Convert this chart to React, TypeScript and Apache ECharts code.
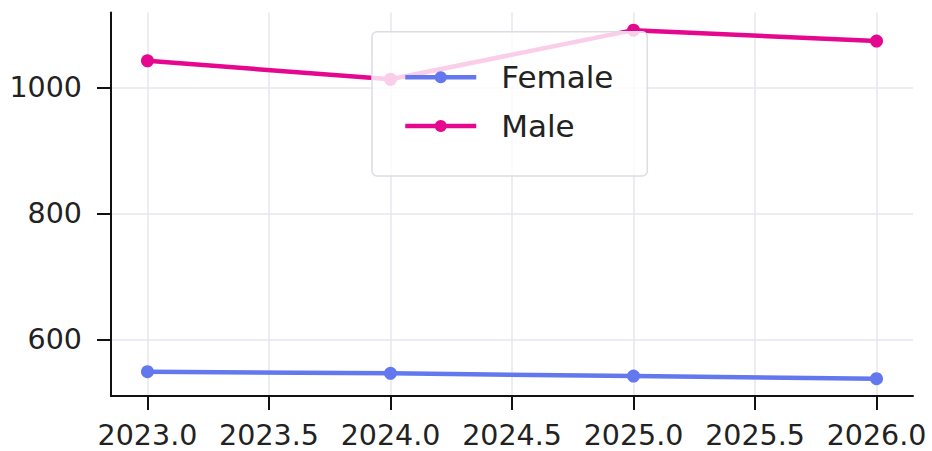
import React, { useEffect, useRef } from "react";
import * as echarts from "echarts";

const years = [2023, 2024, 2025, 2026];
const femaleValues = [548.6, 546, 541.7, 537.5];
const maleValues = [1042.3, 1013, 1091, 1073.6];
const xTicks = [2023, 2023.5, 2024, 2024.5, 2025, 2025.5, 2026];
const yTicks = [600, 800, 1000];

const FONT = "DejaVu Sans";

export default function App() {
  const ref = useRef<HTMLDivElement>(null);
  useEffect(() => {
    if (!ref.current) return;
    const chart = echarts.init(ref.current, undefined, { renderer: "svg" });
    const gridLine = { show: true, lineStyle: { color: "#e6e6ee", width: 1.5 } };
    chart.setOption({
      animation: false,
      backgroundColor: "#ffffff",
      grid: { left: 111, right: 19, top: 12.5, bottom: 55, containLabel: false, outerBoundsMode: "none" },
      xAxis: {
        type: "value",
        min: 2022.85,
        max: 2026.15,
        axisLine: { show: true, onZero: false, lineStyle: { color: "#111", width: 2 } },
        axisTick: { show: true, inside: false, length: 14, customValues: xTicks, lineStyle: { color: "#111", width: 2 } },
        axisLabel: {
          customValues: xTicks,
          formatter: (v: number) => v.toFixed(1),
          fontFamily: FONT,
          fontSize: 28.5,
          color: "#222",
          margin: 25,
        },
        splitLine: { ...gridLine, customValues: xTicks },
      },
      yAxis: {
        type: "value",
        min: 510,
        max: 1119,
        axisLine: { show: true, lineStyle: { color: "#111", width: 2 } },
        axisTick: { show: true, inside: false, length: 14, customValues: yTicks, lineStyle: { color: "#111", width: 2 } },
        axisLabel: {
          customValues: yTicks,
          formatter: (v: number) => String(v),
          fontFamily: FONT,
          fontSize: 28.5,
          color: "#222",
          margin: 29,
        },
        splitLine: { ...gridLine, customValues: yTicks },
      },
      legend: {
        orient: "vertical",
        left: 372,
        top: 31.7,
        padding: [28.6, 34, 33, 31],
        itemWidth: 71,
        itemHeight: 15,
        itemGap: 14.7,
        backgroundColor: "rgba(255,255,255,0.8)",
        borderColor: "#dcdce2",
        borderWidth: 1.5,
        borderRadius: 5,
        lineStyle: { width: 4.5 },
        textStyle: {
          fontFamily: FONT,
          fontSize: 31,
          color: "#222",
          lineHeight: 34,
          padding: [0, 0, 0, 20],
        },
        data: ["Female", "Male"],
      },
      series: [
        {
          name: "Female",
          type: "line",
          data: years.map((y, i) => [y, femaleValues[i]]),
          symbol: "circle",
          symbolSize: 13,
          color: "#6378ee",
          lineStyle: { width: 4.5, color: "#6378ee" },
          itemStyle: { color: "#6378ee" },
        },
        {
          name: "Male",
          type: "line",
          data: years.map((y, i) => [y, maleValues[i]]),
          symbol: "circle",
          symbolSize: 13,
          color: "#e5088e",
          lineStyle: { width: 4.5, color: "#e5088e" },
          itemStyle: { color: "#e5088e" },
        },
      ],
    });
    return () => chart.dispose();
  }, []);
  return (
    <div
      ref={ref}
      style={{ position: "fixed", left: 0, top: 0, width: 932, height: 451 }}
    />
  );
}
